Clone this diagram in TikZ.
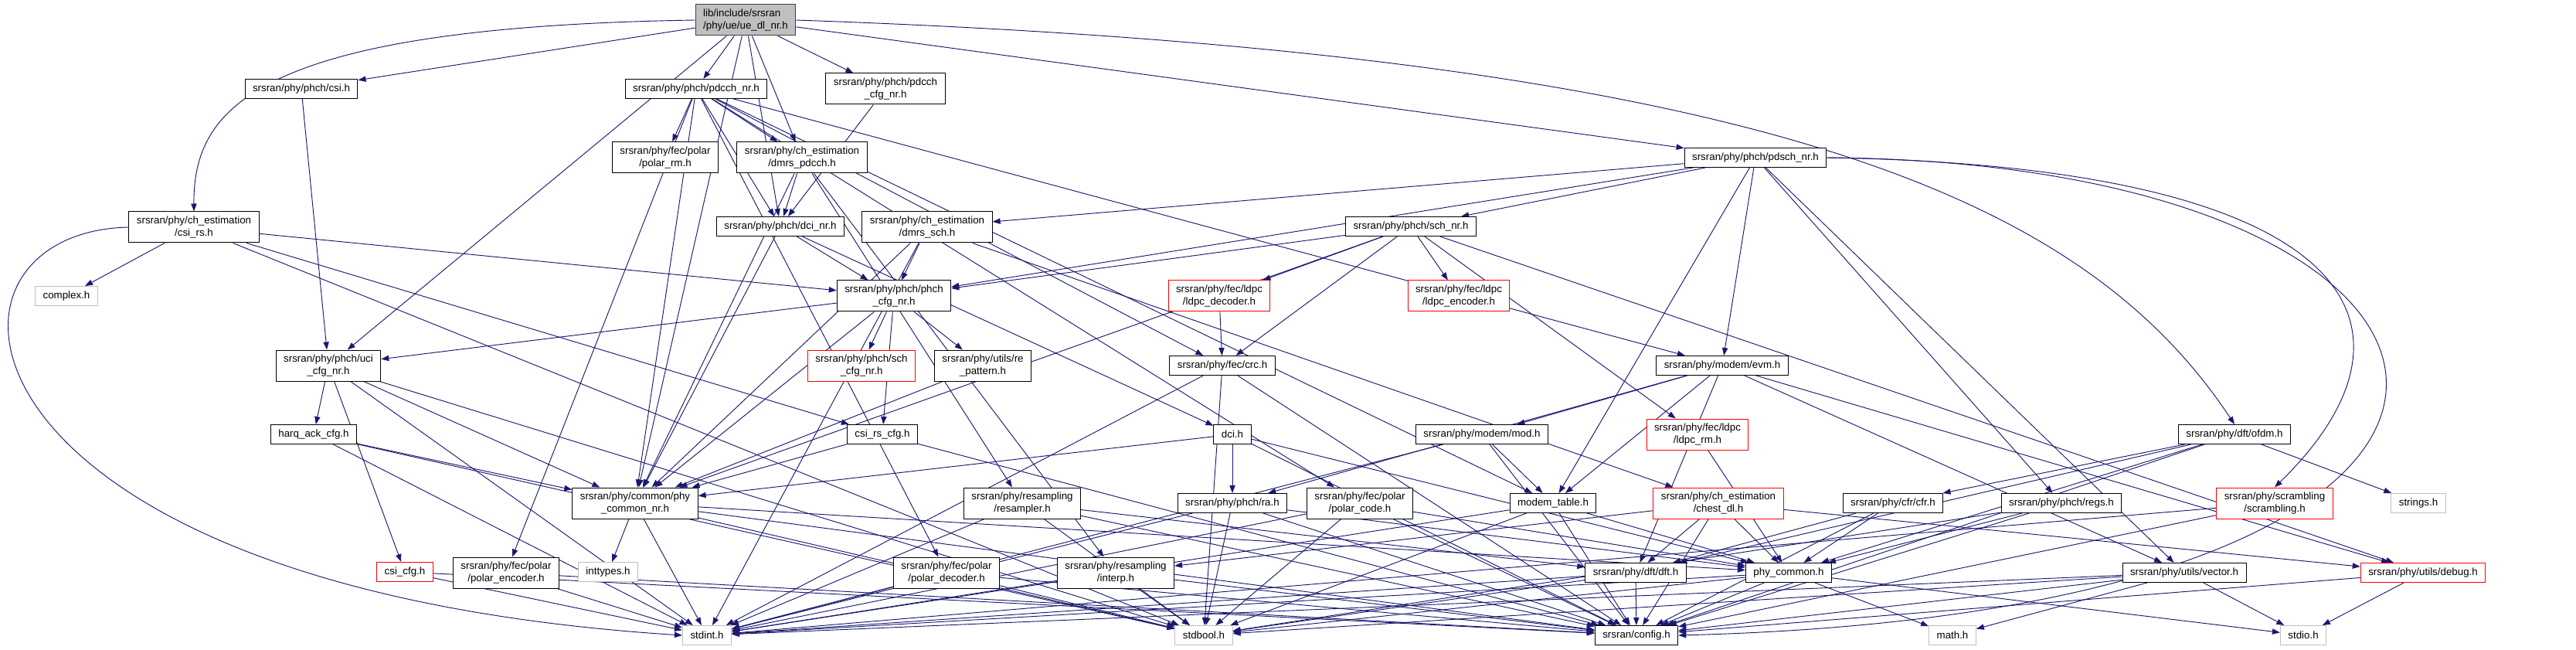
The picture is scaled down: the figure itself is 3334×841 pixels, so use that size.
\documentclass[tikz,border=0pt]{standalone}
\usepackage{fontspec}
\setmainfont{Liberation Sans}
\usetikzlibrary{arrows.meta,backgrounds}
\definecolor{EdgeClr}{rgb}{0.098,0.098,0.439}
\definecolor{SysClr}{rgb}{0.75,0.75,0.75}
\definecolor{RootClr}{rgb}{0.75,0.75,0.75}

\begin{document}
\begin{tikzpicture}[x=0.75pt,y=-0.75pt,
  hdr/.style={draw=black,line width=0.75pt,fill=white,font=\fontsize{10}{11.5}\selectfont,
    inner xsep=7.5pt,inner ysep=1pt,minimum height=18.75pt,align=center},
  two/.style={minimum height=30pt},
  sys/.style={hdr,draw=SysClr},
  trunc/.style={hdr,draw=red},
  inc/.style={draw=EdgeClr,line width=0.7pt,-{Triangle[length=7.5pt,width=5.5pt]}}]
\useasboundingbox (0,0) rectangle (3334,841);

\node[hdr,two,fill=RootClr,draw=black!75,align=left] (root) at (965,26) {lib/include/srsran\\/phy/ue/ue\_dl\_nr.h};

\node[hdr] (csi) at (390,115) {srsran/phy/phch/csi.h};
\node[hdr] (pdcchnr) at (901,115) {srsran/phy/phch/pdcch\_nr.h};
\node[hdr,two] (pdcchcfg) at (1146,115) {srsran/phy/phch/pdcch\\\_cfg\_nr.h};

\node[hdr] (pdschnr) at (2272,204) {srsran/phy/phch/pdsch\_nr.h};
\node[hdr,two] (polarrm) at (861,204) {srsran/phy/fec/polar\\/polar\_rm.h};
\node[hdr,two] (dmrspdcch) at (1038,204) {srsran/phy/ch\_estimation\\/dmrs\_pdcch.h};

\node[hdr,two] (csirs) at (251,294) {srsran/phy/ch\_estimation\\/csi\_rs.h};
\node[hdr] (dcinr) at (1010,293) {srsran/phy/phch/dci\_nr.h};
\node[hdr,two] (dmrssch) at (1200,294) {srsran/phy/ch\_estimation\\/dmrs\_sch.h};
\node[hdr] (schnr) at (1826,293) {srsran/phy/phch/sch\_nr.h};

\node[sys] (complex) at (86,383) {complex.h};
\node[hdr,two] (phchcfg) at (1157,383) {srsran/phy/phch/phch\\\_cfg\_nr.h};
\node[trunc,two] (ldpcdec) at (1578,383) {srsran/phy/fec/ldpc\\/ldpc\_decoder.h};
\node[trunc,two] (ldpcenc) at (1888,383) {srsran/phy/fec/ldpc\\/ldpc\_encoder.h};

\node[hdr,two] (uci) at (425,473) {srsran/phy/phch/uci\\\_cfg\_nr.h};
\node[trunc,two] (schcfg) at (1115,473) {srsran/phy/phch/sch\\\_cfg\_nr.h};
\node[hdr,two] (repattern) at (1272,473) {srsran/phy/utils/re\\\_pattern.h};
\node[hdr] (crc) at (1582,473) {srsran/phy/fec/crc.h};
\node[hdr] (evm) at (2229,473) {srsran/phy/modem/evm.h};

\node[hdr] (harq) at (406,562) {harq\_ack\_cfg.h};
\node[hdr] (csirscfg) at (1142,562) {csi\_rs\_cfg.h};
\node[hdr] (dci) at (1595,562) {dci.h};
\node[hdr] (mod) at (1918,562) {srsran/phy/modem/mod.h};
\node[trunc,two] (ldpcrm) at (2197,562) {srsran/phy/fec/ldpc\\/ldpc\_rm.h};
\node[hdr] (ofdm) at (2892,562) {srsran/phy/dft/ofdm.h};

\node[hdr,two] (phycommonnr) at (822,651) {srsran/phy/common/phy\\\_common\_nr.h};
\node[hdr,two] (resampler) at (1323,651) {srsran/phy/resampling\\/resampler.h};
\node[hdr] (ra) at (1595,651) {srsran/phy/phch/ra.h};
\node[hdr,two] (polarcode) at (1760,651) {srsran/phy/fec/polar\\/polar\_code.h};
\node[hdr] (modemtable) at (2010,651) {modem\_table.h};
\node[trunc,two] (chestdl) at (2224,651) {srsran/phy/ch\_estimation\\/chest\_dl.h};
\node[hdr] (cfr) at (2450,651) {srsran/phy/cfr/cfr.h};
\node[hdr] (regs) at (2668,651) {srsran/phy/phch/regs.h};
\node[trunc,two] (scrambling) at (2944,651) {srsran/phy/scrambling\\/scrambling.h};
\node[sys] (strings) at (3130,651) {strings.h};

\node[trunc] (csicfg) at (524,740) {csi\_cfg.h};
\node[hdr,two] (polarenc) at (655,741) {srsran/phy/fec/polar\\/polar\_encoder.h};
\node[sys] (inttypes) at (787,740) {inttypes.h};
\node[hdr,two] (polardec) at (1225,741) {srsran/phy/fec/polar\\/polar\_decoder.h};
\node[hdr,two] (interp) at (1444,741) {srsran/phy/resampling\\/interp.h};
\node[hdr] (dft) at (2117,741) {srsran/phy/dft/dft.h};
\node[hdr] (phycommon) at (2315,741) {phy\_common.h};
\node[hdr] (vector) at (2827,741) {srsran/phy/utils/vector.h};
\node[trunc] (debug) at (3136,741) {srsran/phy/utils/debug.h};

\node[sys] (stdint) at (915,822) {stdint.h};
\node[sys] (stdbool) at (1558,822) {stdbool.h};
\node[hdr] (config) at (2118,822) {srsran/config.h};
\node[sys] (math) at (2527,822) {math.h};
\node[sys] (stdio) at (2981,822) {stdio.h};

% include edges, source/{targets}
\begin{scope}[on background layer]
\foreach \s/\tl in {
  root/{csi,uci,phycommonnr,pdcchnr,dmrspdcch,pdcchcfg,dcinr,pdschnr},
  csi/{uci},
  pdcchnr/{polarrm,dmrspdcch,dcinr,polarenc,polardec,polarcode,phycommonnr,crc,evm,modemtable},
  pdcchcfg/{dcinr},
  pdschnr/{dmrssch,phchcfg,schnr,evm,modemtable,vector,regs},
  csirs/{complex,stdbool,phchcfg,csirscfg},
  dmrspdcch/{dcinr,phycommonnr,resampler,interp},
  dcinr/{phchcfg,phycommonnr,dci},
  dmrssch/{phchcfg,phycommonnr,chestdl,stdint},
  schnr/{phchcfg,ldpcdec,ldpcenc,ldpcrm,crc,phycommonnr,debug},
  phchcfg/{uci,schcfg,repattern,phycommonnr,csirscfg},
  uci/{harq,csicfg,phycommonnr,stdint,stdbool},
  ldpcdec/{crc},
  crc/{stdint,stdbool,config},
  evm/{mod,ra,modemtable,dft,vector,debug},
  harq/{phycommonnr,stdint,stdbool},
  csirscfg/{phycommonnr,config},
  dci/{ra,phycommon,phycommonnr,config},
  mod/{modemtable,config,stdint},
  ldpcrm/{phycommon},
  ofdm/{cfr,strings,config,dft,phycommon},
  repattern/{phycommonnr},
  phycommonnr/{inttypes,phycommon,stdint,stdbool,config},
  resampler/{dft,stdint,stdbool,config},
  ra/{stdint,stdbool,config,phycommon},
  polarcode/{phycommon,config,stdint,stdbool},
  modemtable/{config,phycommon,stdint,stdbool},
  chestdl/{dft,phycommon,config,interp,debug},
  cfr/{dft,phycommon,config},
  regs/{phycommon,stdbool,config},
  scrambling/{config,stdint},
  csicfg/{stdint,config},
  polarenc/{stdint,config},
  polardec/{stdint,stdbool,config},
  interp/{stdint,stdbool,config},
  dft/{config,stdint,stdbool},
  phycommon/{config,stdint,stdbool,stdio,math},
  vector/{config,stdint,stdbool,stdio,math},
  debug/{stdio,config}}
  \foreach \t in \tl
    \draw[inc] (\s) -- (\t);
% the long ones that go round
\draw[inc] (root.west) .. controls (330,35) and (250,140) .. (csirs.north);
\draw[inc] (csirs.west) .. controls (-120,300) and (-80,760) .. (stdint.west);
\draw[inc] (root.east) .. controls (2300,70) and (2700,260) .. (ofdm.north);
\draw[inc] (pdschnr.east) .. controls (3050,215) and (3160,420) .. (scrambling.north);
\draw[inc] (pdschnr.east) .. controls (3300,210) and (3420,790) .. (config.east);
\end{scope}

\end{tikzpicture}
\end{document}
